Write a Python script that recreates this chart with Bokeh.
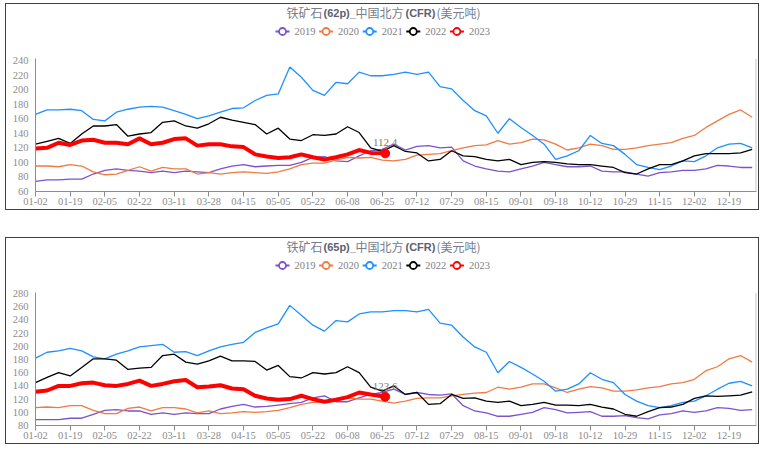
from bokeh.plotting import figure
from bokeh.models import Range1d, FixedTicker, Label, Span
from bokeh.layouts import column
from bokeh.embed import file_html
from bokeh.resources import INLINE
from bokeh.core.properties import value

# ---------------- data ----------------
dates = ["01-02", "01-19", "02-05", "02-22", "03-11", "03-28", "04-15", "05-05",
         "05-22", "06-08", "06-25", "07-12", "07-29", "08-15", "09-01", "09-18",
         "10-12", "10-29", "11-15", "12-02", "12-19"]
TICK_EVERY = 12                       # trading-day index between labelled dates
x_idx = list(range(0, 249, 4))        # sample positions (trading-day index)
red_idx = list(range(0, 117, 4)) + [121]
years = ["2019", "2020", "2021", "2022", "2023"]

# 62% Fe, CFR North China (USD/t)
p62_2019 = [74, 76, 76, 77, 77, 84, 89, 91, 89, 88, 86, 88, 86, 88, 87, 86, 91, 95,
            97, 94, 95, 96, 96, 100, 107, 108, 102, 101, 109, 116, 118, 125, 117,
            122, 123, 120, 121, 102, 95, 91, 88, 87, 91, 95, 100, 97, 94, 94, 95, 88,
            87, 87, 84, 81, 86, 87, 89, 89, 91, 96, 95, 93, 93]
p62_2020 = [95, 95, 94, 97, 95, 87, 83, 84, 89, 94, 88, 93, 91, 91, 84, 86, 84, 86,
            87, 86, 85, 87, 91, 97, 99, 99, 103, 107, 106, 107, 103, 102, 104, 110,
            111, 112, 116, 120, 123, 124, 130, 125, 127, 132, 131, 125, 117, 120, 125,
            123, 118, 118, 120, 123, 125, 127, 133, 137, 148, 157, 166, 172, 162]
p62_2021 = [166, 172, 172, 173, 171, 159, 157, 169, 173, 176, 177, 176, 171, 166, 160,
            164, 169, 174, 175, 185, 192, 194, 231, 217, 199, 192, 210, 208, 224, 219,
            219, 221, 224, 221, 224, 204, 201, 185, 171, 164, 140, 160, 148, 137, 125,
            104, 109, 116, 137, 126, 123, 111, 97, 93, 90, 95, 102, 101, 109, 120, 125,
            126, 120]
p62_2022 = [125, 129, 133, 126, 139, 150, 150, 152, 136, 139, 141, 155, 157, 150, 147,
            153, 162, 158, 155, 152, 139, 147, 132, 130, 138, 137, 139, 149, 141, 120,
            115, 123, 115, 113, 102, 104, 116, 109, 108, 104, 102, 104, 97, 100, 101,
            100, 98, 97, 97, 95, 93, 86, 84, 91, 97, 97, 102, 109, 112, 112, 112, 113,
            118]
p62_2023 = [119, 120, 127, 124, 130, 131, 127, 127, 125, 133, 125, 127, 132, 133, 123,
            125, 125, 122, 121, 111, 108, 106, 107, 111, 107, 104, 107, 111, 117, 113,
            112.4]

# 65% Fe, CFR North China (USD/t)
p65_2019 = [89, 89, 89, 91, 91, 97, 103, 104, 102, 102, 97, 99, 97, 99, 98, 98, 105,
            109, 112, 108, 109, 111, 113, 115, 122, 125, 116, 116, 122, 127, 130, 135,
            127, 130, 127, 126, 128, 110, 102, 99, 94, 94, 97, 100, 107, 104, 99, 100,
            101, 94, 94, 95, 92, 90, 96, 98, 102, 100, 102, 107, 106, 103, 104]
p65_2020 = [107, 108, 107, 110, 110, 103, 98, 98, 106, 108, 102, 107, 107, 105, 99,
            102, 98, 99, 101, 100, 101, 103, 107, 112, 115, 115, 118, 122, 120, 120,
            117, 114, 117, 121, 122, 122, 125, 127, 129, 130, 138, 135, 138, 143, 143,
            137, 130, 135, 139, 137, 132, 132, 134, 137, 139, 143, 145, 150, 163, 169,
            181, 186, 176]
p65_2021 = [182, 191, 193, 197, 193, 184, 181, 188, 193, 199, 201, 203, 191, 192, 186,
            193, 199, 203, 206, 221, 228, 234, 262, 247, 232, 223, 239, 237, 249, 252,
            252, 254, 254, 252, 256, 235, 232, 214, 199, 191, 160, 177, 168, 158, 147,
            132, 135, 143, 160, 150, 145, 127, 117, 110, 107, 110, 115, 117, 125, 135,
            144, 147, 140]
p65_2022 = [145, 153, 160, 155, 168, 181, 181, 179, 165, 167, 168, 186, 188, 176, 173,
            178, 185, 178, 178, 177, 164, 171, 154, 152, 160, 158, 160, 169, 160, 138,
            132, 140, 127, 130, 112, 113, 127, 121, 122, 117, 115, 117, 110, 112, 115,
            111, 111, 110, 112, 108, 105, 97, 94, 101, 107, 108, 112, 121, 125, 124,
            125, 126, 131]
p65_2023 = [131, 133, 140, 140, 144, 145, 141, 140, 143, 148, 140, 143, 147, 149, 138,
            139, 141, 136, 135, 125, 121, 119, 120, 125, 120, 116, 119, 123, 130, 127,
            123.6]

y62_ticks = [60, 80, 100, 120, 140, 160, 180, 200, 220, 240]
y65_ticks = [80, 100, 120, 140, 160, 180, 200, 220, 240, 260, 280]

title62 = [("铁矿石", False), ("(62p)_", True), ("中国北方", False), ("(CFR)", True), ("(美元吨)", False)]
title65 = [("铁矿石", False), ("(65p)_", True), ("中国北方", False), ("(CFR)", True), ("(美元吨)", False)]

# ---------------- styles ----------------
COLORS = {"2019": "#7b52d0", "2020": "#f07a42", "2021": "#1e90ff",
          "2022": "#000000", "2023": "#ff0000"}
GRAY = "#8c8c8c"
SERIF = "Liberation Serif"
CJK = "Noto Sans CJK SC"
INNER_W = 752
HEAD_H = 50
CHART_H = 155
BORDER_L, BORDER_R = 29, 2
TITLE_X = [280, 317, 349, 399, 430]
TITLE_Y = 8
LEG_X0, LEG_PITCH, LEG_Y = 276, 43.6, 27


def header(parts):
    h = figure(width=INNER_W, height=HEAD_H, output_backend="svg", toolbar_location=None,
               x_range=Range1d(BORDER_L, INNER_W - BORDER_R), y_range=Range1d(HEAD_H, 0),
               x_axis_location=None, y_axis_location=None, min_border=0,
               min_border_left=BORDER_L, min_border_right=BORDER_R)
    h.grid.visible = False
    h.outline_line_color = None
    for (txt, bold), xp in zip(parts, TITLE_X):
        h.text([xp], [TITLE_Y], [txt],
               text_font=value("Liberation Sans" if bold else CJK),
               text_font_style=value("bold" if bold else "normal"),
               text_font_size=value("11px" if bold else "12px"),
               text_color="#5b6172" if bold else "#777c8a",
               text_align=value("left"), text_baseline=value("middle"))
    for k, yr in enumerate(years):
        cx = LEG_X0 + k * LEG_PITCH
        h.line([cx - 7, cx + 7], [LEG_Y, LEG_Y], color=COLORS[yr], line_width=2)
        h.scatter([cx], [LEG_Y], marker="circle", size=7, fill_color="white",
                  line_color=COLORS[yr], line_width=1.8)
        h.text([cx + 12], [LEG_Y], [yr], text_font=value(SERIF),
               text_font_size=value("10.5px"), text_color="#7f7f7f",
               text_align=value("left"), text_baseline=value("middle"))
    return h


def chart(series, yticks, ymax):
    p = figure(width=INNER_W, height=CHART_H, output_backend="svg", toolbar_location=None,
               x_range=Range1d(0, 249.5), y_range=Range1d(yticks[0], ymax),
               min_border_left=BORDER_L, min_border_right=BORDER_R, min_border_top=4,
               min_border_bottom=18)
    p.grid.visible = False
    p.outline_line_color = None

    for yr in years[:4]:
        p.line(x_idx, series[yr], color=COLORS[yr], line_width=1.3)
    red = series["2023"]
    p.line(red_idx, red, color=COLORS["2023"], line_width=4)
    p.scatter([red_idx[-1]], [red[-1]], size=9, color=COLORS["2023"])
    p.add_layout(Label(x=red_idx[-1], y=red[-1], y_offset=7, text=str(red[-1]),
                       text_align="center", text_baseline="bottom",
                       text_font=SERIF, text_font_size="11px", text_color="#857a6e"))

    p.add_layout(Span(location=249.5, dimension="height", line_color="#c8c8c8",
                      line_width=2))

    xa = p.xaxis[0]
    xa.ticker = FixedTicker(ticks=[i * TICK_EVERY for i in range(len(dates))])
    xa.major_label_overrides = {i * TICK_EVERY: d for i, d in enumerate(dates)}
    xa.major_tick_out = 5
    xa.major_tick_in = 0
    xa.minor_tick_line_color = None
    xa.axis_line_color = GRAY
    xa.major_tick_line_color = GRAY
    xa.major_label_text_font = SERIF
    xa.major_label_text_font_size = "10.5px"
    xa.major_label_text_color = GRAY
    xa.major_label_standoff = 1

    ya = p.yaxis[0]
    ya.ticker = FixedTicker(ticks=yticks)
    ya.major_tick_out = 0
    ya.major_tick_in = 0
    ya.minor_tick_line_color = None
    ya.major_tick_line_color = None
    ya.axis_line_color = GRAY
    ya.major_label_text_font = SERIF
    ya.major_label_text_font_size = "10.5px"
    ya.major_label_text_color = GRAY
    ya.major_label_standoff = 7
    return p


s62 = {"2019": p62_2019, "2020": p62_2020, "2021": p62_2021, "2022": p62_2022, "2023": p62_2023}
s65 = {"2019": p65_2019, "2020": p65_2020, "2021": p65_2021, "2022": p65_2022, "2023": p65_2023}

panel1 = column(header(title62), chart(s62, y62_ticks, 242.7), spacing=0,
                styles={"border": "1px solid #3f3f3f"})
panel2 = column(header(title65), chart(s65, y65_ticks, 281.5), spacing=0,
                styles={"border": "1px solid #3f3f3f"})

layout = column(panel1, panel2, spacing=27, margin=(3, 0, 0, 5))
open("out.html", "w").write(file_html(layout, INLINE))
